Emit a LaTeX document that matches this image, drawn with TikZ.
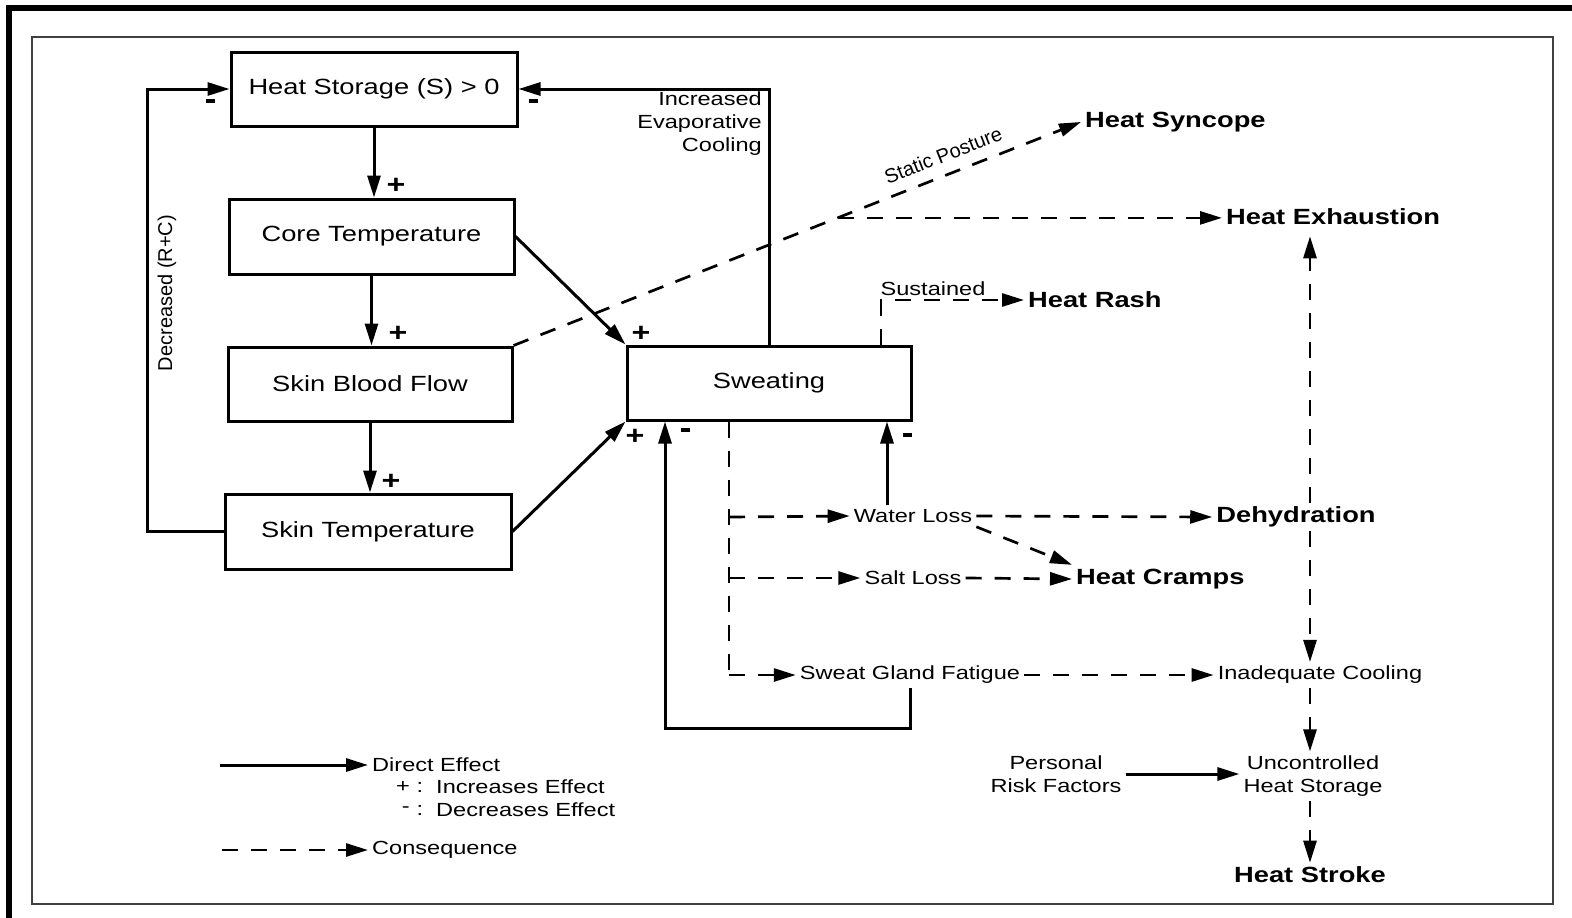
\documentclass[tikz,border=0pt]{standalone}
\usepackage{fontspec}
\setmainfont{Liberation Sans}[FakeStretch=1.24]
\newfontfamily\plainsans{Liberation Sans}
\usetikzlibrary{arrows.meta,calc}
\newcommand{\minusbar}{\rule[4pt]{9pt}{3.5pt}}
\tikzset{
  box/.style={draw, line width=3pt, minimum width=286pt, minimum height=74pt, inner sep=2pt, font=\fontsize{22}{26}\selectfont},
  tip/.style={-{Triangle[length=22pt,width=13pt]}},
  arr/.style={line width=3pt, tip},
  dsh/.style={line width=2.7pt, dash pattern=on 16pt off 13pt},
  darr/.style={dsh, tip},
  outc/.style={font=\bfseries\fontsize{22}{26}\selectfont, inner sep=4pt},
  lbl/.style={font=\fontsize{19}{23}\selectfont, inner sep=4pt},
  sgn/.style={font=\bfseries\fontsize{26}{26}\selectfont, inner sep=0pt},
}
\begin{document}
\begin{tikzpicture}[x=1pt,y=-1pt]
\useasboundingbox (0,0) rectangle (1572,918);
\fill[white] (0,0) rectangle (1572,918);
% frames
\draw[line width=6pt] (9,918) -- (9,8) -- (1572,8);
\draw[line width=1.6pt, black!75] (32,37) rectangle (1553,904);

% boxes
\node[box] (hs) at (374,89) {Heat Storage (S) > 0};
\node[box, minimum width=285pt, minimum height=75pt] (core) at (371.5,236.5) {Core Temperature};
\node[box, minimum width=284pt] (sbf) at (370,384) {Skin Blood Flow};
\node[box, minimum height=75pt] (st) at (368,531.5) {Skin Temperature};
\node[box, minimum width=284pt] (sw) at (769,383) {Sweating};

% outcomes
\node[outc, anchor=west] (syn) at (1081,122) {Heat Syncope};
\node[outc, anchor=west] (exh) at (1222,217) {Heat Exhaustion};
\node[outc, anchor=west] (rash) at (1024,300) {Heat Rash};
\node[outc] (deh) at (1296,517) {Dehydration};
\node[outc, anchor=west] (cr) at (1072,579) {Heat Cramps};
\node[outc] (hst) at (1310,875) {Heat Stroke};

% small labels
\node[lbl] (wl) at (913,516) {Water Loss};
\node[lbl] (sl) at (913,578) {Salt Loss};
\node[lbl] (sgf) at (910,675) {Sweat Gland Fatigue};
\node[lbl] (ic) at (1320,675) {Inadequate Cooling};
\node[lbl, align=center] (ush) at (1313,776) {Uncontrolled\\Heat Storage};
\node[lbl, align=center] (prf) at (1056,774) {Personal\\Risk Factors};
\node[lbl, align=right, anchor=east] (evap) at (766,124) {Increased\\Evaporative\\Cooling};
\node[lbl, rotate=90, font=\plainsans\fontsize{20}{24}\selectfont] (dec) at (167,293) {Decreased (R+C)};
\node[lbl] (sus) at (933,289) {Sustained};

% direct effects
\draw[arr] (hs.south) -- (hs.south |- core.north);
\draw[arr] (core.south) -- (core.south |- sbf.north);
\draw[arr] (sbf.south) -- (sbf.south |- st.north);
\draw[arr] (core.east) -- (sw.north west);
\draw[arr] (st.east) -- (sw.south west);
\coordinate (dl) at (147,531.5);
\draw[arr] (st.west) -- (dl) |- (hs.west);
\draw[arr] (sw.north) |- (hs.east);

% signs
\node[sgn] (p1) at (396,186) {+};
\node[sgn] (p2) at (398,334) {+};
\node[sgn] (p3) at (391,482) {+};
\node[sgn] (p4) at (641,334) {+};
\node[sgn] (p5) at (635,437) {+};
\node[sgn] (m1) at (210,103) {\minusbar};
\node[sgn] (m2) at (533,103) {\minusbar};
\node[sgn] (m3) at (685,432) {\minusbar};
\node[sgn] (m4) at (907,437) {\minusbar};

% static posture / syncope / exhaustion
\draw[darr] (sbf.north east) -- (syn.west)
  node[lbl, pos=0.77, sloped, above=7pt, font=\plainsans\fontsize{20}{24}\selectfont] (sp) {Static Posture};
\coordinate (br) at ($(sbf.north east)!0.571!(syn.west)$);
\draw[darr] (br) -- (br -| exh.west);

% sustained -> heat rash
\coordinate (sux) at (881,0);
\draw[darr] (sw.north -| sux) |- (rash.west);

% sweating trunk
\coordinate (t1) at (729,517);
\coordinate (t2) at (729,578);
\coordinate (t3) at (729,675);
\draw[dsh] (sw.south -| t1) -- (t3);
\draw[darr] (t1) -- (wl.west);
\draw[darr] (t2) -- (sl.west);
\draw[darr] (t3) -- (sgf.west);

% water loss
\coordinate (wlx) at (887,0);
\draw[arr] (wl.north -| wlx) -- (wlx |- sw.south);
\draw[darr] (wl.east) -- (deh.west);
\draw[darr] (wl.south east) -- (cr.north west);
\draw[darr] (sl.east) -- (cr.west);

% sweat gland fatigue
\draw[darr] (sgf.east) -- (ic.west);
\coordinate (fb) at (665,728);
\draw[arr] (sgf.south) |- (fb) -- (fb |- sw.south);

% right vertical chain
\coordinate (vd) at (1310,0);
\draw[darr] (vd |- deh.north) -- ([yshift=-7pt]vd |- exh.south);
\draw[darr] (vd |- deh.south) -- (vd |- ic.north);
\draw[darr] (vd |- ic.south) -- (vd |- ush.north);
\draw[darr] (vd |- ush.south) -- (vd |- hst.north);
\draw[arr] (prf.east) -- (prf.east -| ush.west);

% legend
\coordinate (la) at (220,765);
\coordinate (lb) at (368,765);
\draw[arr] (la) -- (lb);
\node[lbl, anchor=west] (ld) at (lb) {Direct Effect};
\node[lbl, anchor=east] (lp) at (414,787) {+};
\node[lbl, anchor=east] (lm) at (414,810) {-};
\node[lbl] (lc1) at (420,787) {:};
\node[lbl] (lc2) at (420,810) {:};
\node[lbl, anchor=west] (li) at (432,787) {Increases Effect};
\node[lbl, anchor=west] (lde) at (432,810) {Decreases Effect};
\coordinate (lc) at (222,850);
\coordinate (le) at (368,850);
\draw[darr] (lc) -- (le);
\node[lbl, anchor=west] (lcon) at (le) {Consequence};
\end{tikzpicture}
\end{document}
